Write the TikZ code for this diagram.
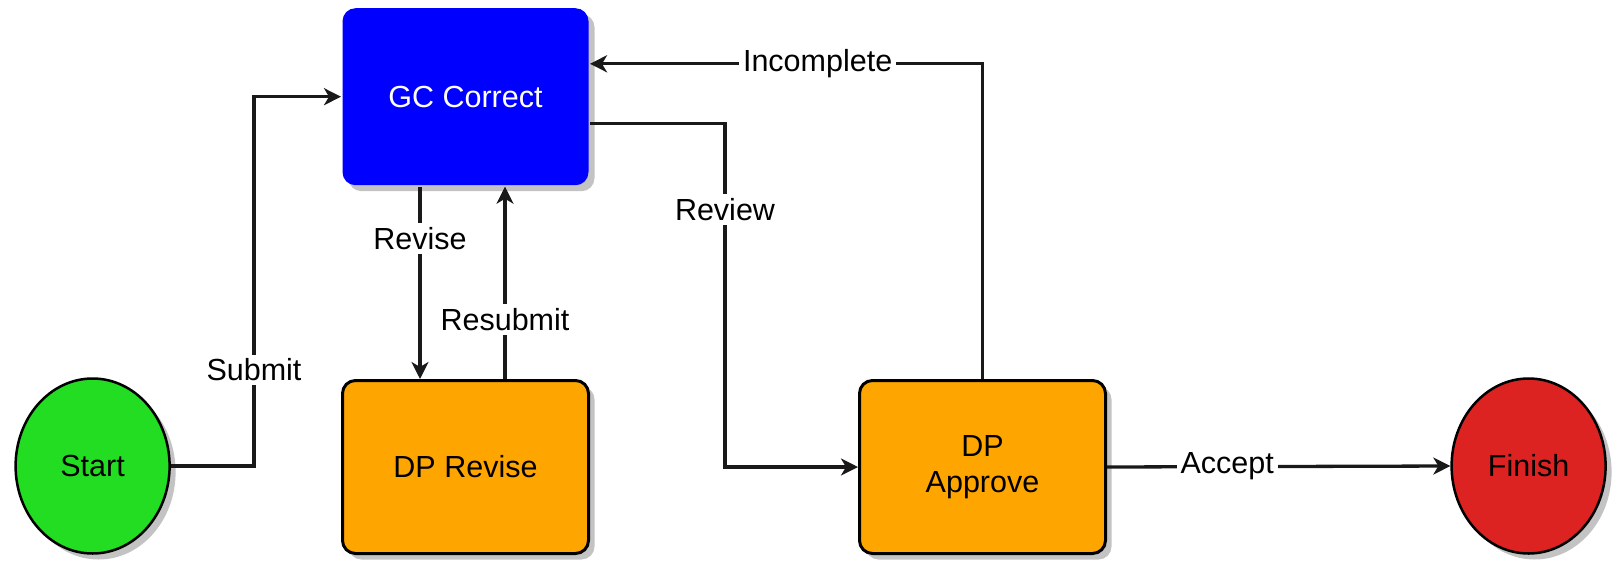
\documentclass[tikz,border=0pt]{standalone}
\usepackage{fontspec}
\setmainfont{Liberation Sans}
\usetikzlibrary{shapes.geometric,shadows,arrows.meta,calc}
\definecolor{gcblue}{RGB}{0,0,255}
\definecolor{dporange}{RGB}{255,165,0}
\definecolor{stgreen}{RGB}{34,221,34}
\definecolor{fnred}{RGB}{221,34,34}
\definecolor{shadowgray}{RGB}{195,195,195}
\begin{document}
\begin{tikzpicture}[x=1pt,y=-1pt,
  font=\fontsize{30.5}{40}\selectfont,
  shadowed/.style={drop shadow={shadow xshift=6pt,shadow yshift=-6pt,fill=shadowgray,opacity=1}},
  procbox/.style={rectangle,rounded corners=13pt,minimum width=246pt,minimum height=173pt,
    inner sep=0pt,align=center,line width=3pt,draw=black,fill=dporange,shadowed},
  termnode/.style={ellipse,minimum width=154pt,minimum height=175pt,inner sep=0pt,
    line width=2.5pt,draw=black,shadowed},
  conn/.style={line width=3.3pt,draw=black!90,-{Stealth[length=17pt,width=17pt,inset=5pt]}},
  lbl/.style={fill=white,inner sep=4pt,text=black}]
\useasboundingbox (0,0) rectangle (1613,560);

\node[procbox,fill=gcblue,draw=none,text=white,minimum height=177pt] (gc) at (465.5,96.7) {GC Correct};
\node[procbox] (dprev) at (465.5,467) {DP Revise};
\node[procbox] (dpa) at (982.5,467) {\raisebox{-4pt}{DP}\\[-4pt]\raisebox{-4pt}{Approve}};
\node[termnode,fill=stgreen] (start) at (92.6,466) {Start};
\node[termnode,fill=fnred] (finish) at (1528.6,466) {Finish};

\coordinate (sbend) at (254,466);
\coordinate (rbend) at (725,123.4);

\draw[conn] (start.east) -- (sbend) |- node[lbl,pos=0.13]{Submit} (gc.west);
\draw[conn] ($(gc.south)+(-45.5,0)$) -- node[lbl,pos=0.27]{Revise} ($(dprev.north)+(-45.5,0)$);
\draw[conn] ($(dprev.north)+(39.5,0)$) -- node[lbl,pos=0.31]{Resubmit} ($(gc.south)+(39.5,0)$);
\draw[conn] ($(gc.east)+(0,26.7)$) -- (rbend) |- node[lbl,pos=0.125]{Review} (dpa.west);
\draw[conn] (dpa.north) |- node[lbl,pos=0.71]{Incomplete} ($(gc.east)+(0,-32.9)$);
\draw[conn] (dpa.east) -- node[lbl,pos=0.35]{Accept} (finish.west);
\end{tikzpicture}
\end{document}
